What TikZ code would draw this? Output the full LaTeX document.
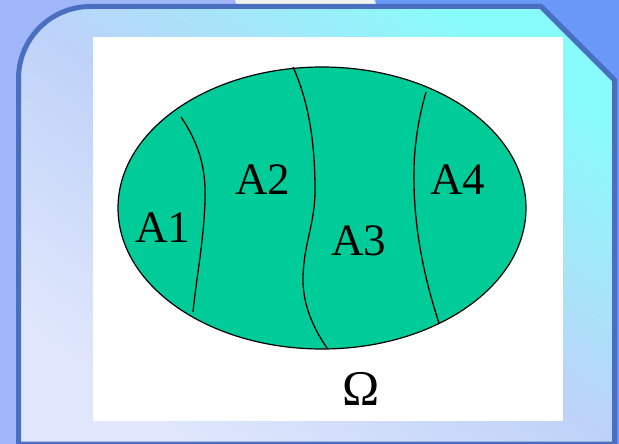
\documentclass[tikz,border=0pt]{standalone}
\usepackage{fontspec}
\setmainfont{Liberation Serif}
\usetikzlibrary{positioning}
\definecolor{colSlide}{RGB}{160,182,248}
\definecolor{colSlideDark}{RGB}{106,152,248}
\definecolor{colPaper}{RGB}{238,243,238}
\definecolor{colFrame}{RGB}{74,111,192}
\definecolor{colPale}{RGB}{224,231,252}
\definecolor{colMid}{RGB}{190,210,248}
\definecolor{colCyan}{RGB}{136,252,252}
\definecolor{colGreen}{RGB}{0,204,153}

\begin{document}
\begin{tikzpicture}[x=1pt, y=-1pt,
  frame/.style={draw=colFrame, line width=5pt, bottom color=colPale,
    top color=colCyan, middle color=colMid, shading angle=-36},
  region/.style={draw=black, line width=1.2pt, fill=colGreen},
  border/.style={draw=black, line width=1.3pt},
  lab/.style={font=\fontsize{45}{50}\selectfont, inner sep=0pt},
  omega/.style={font=\fontsize{50}{55}\selectfont, inner sep=0pt}]
  \useasboundingbox (0,0) rectangle (619,444);
  % slide background
  \fill[colSlide] (0,0) rectangle (619,444);
  \fill[colPaper] (235,0) -- (374,0) -- (378,9) -- (238,9) -- cycle;
  \fill[colSlideDark] (376,0) rectangle (619,444);
  \path[frame] (200,6.5) -- (541,6.5) -- (614.5,80) -- (614.5,444)
    -- (18.5,444) [rounded corners=72pt] -- (18.5,6.5) -- (200,6.5);
  \fill[white] (93,37) rectangle (563,421);
  % sample space and its partition
  \path[region] (322,208) ellipse [x radius=204, y radius=141];
  \draw[border] (181,117) .. controls (200,145) and (206,170) .. (205,200)
    .. controls (204,240) and (196,280) .. (193,312);
  \draw[border] (293,67) .. controls (308,100) and (315,140) .. (315,190)
    .. controls (315,225) and (303,245) .. (303,280)
    .. controls (303,310) and (318,335) .. (327,348);
  \draw[border] (426,92) .. controls (418,120) and (413,150) .. (414,185)
    .. controls (415,240) and (428,290) .. (439,323);
  \node[lab] (a1) at (163,228) {A1};
  \node[lab] (a2) at (262.5,180) {A2};
  \node[lab] (a3) at (359,241) {A3};
  \node[lab] (a4) at (458,180) {A4};
  \node[omega] (om) at (361.5,389) {Ω};
\end{tikzpicture}
\end{document}
